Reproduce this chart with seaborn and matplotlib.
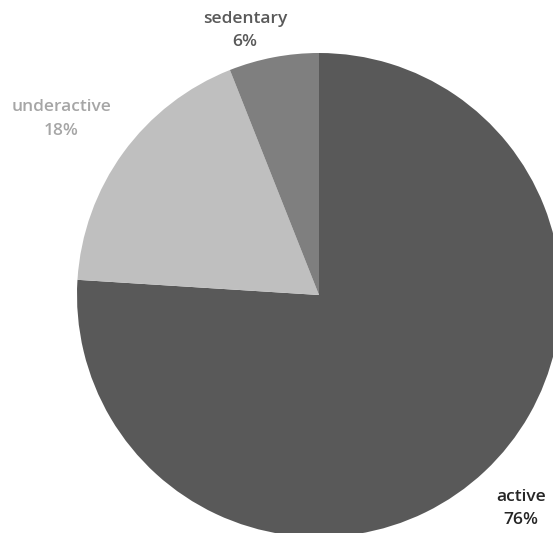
import numpy as np
import matplotlib
matplotlib.use("Agg")
import matplotlib.pyplot as plt
import seaborn as sns

categories = ["active", "underactive", "sedentary"]
shares = [76, 18, 6]
slice_colors = ["#595959", "#bfbfbf", "#7f7f7f"]
label_colors = ["#262626", "#a6a6a6", "#595959"]
label_dist = [1.215, 1.29, 1.135]
label_shift = [0.2, 1.7, 4.8]  # degrees off the slice mid-angle

sns.set_style("white")
plt.rcParams['font.family'] = ['Open Sans', 'DejaVu Sans']

fig = plt.figure(figsize=(5.53, 5.33), dpi=100)
ax = fig.add_axes([0, 0, 1, 1])

cx, cy, r = 319, 238, 242
wedges, _ = ax.pie(shares, colors=slice_colors, startangle=90, counterclock=False,
                   center=(cx, cy), radius=r, frame=True,
                   wedgeprops=dict(linewidth=0, edgecolor='none'))
ax.set_xlim(0, 553)
ax.set_ylim(0, 533)
ax.set_aspect('equal')
ax.axis('off')

for w, cat, val, col, d, s in zip(wedges, categories, shares, label_colors, label_dist, label_shift):
    mid = np.deg2rad((w.theta1 + w.theta2) / 2 + s)
    x = cx + d * r * np.cos(mid)
    y = cy + d * r * np.sin(mid)
    ax.text(x, y, f"{cat}\n{val}%", ha='center', va='center', color=col,
            fontsize=12.5, fontweight='semibold', linespacing=1.6)

fig.savefig("out.png", dpi=100)
